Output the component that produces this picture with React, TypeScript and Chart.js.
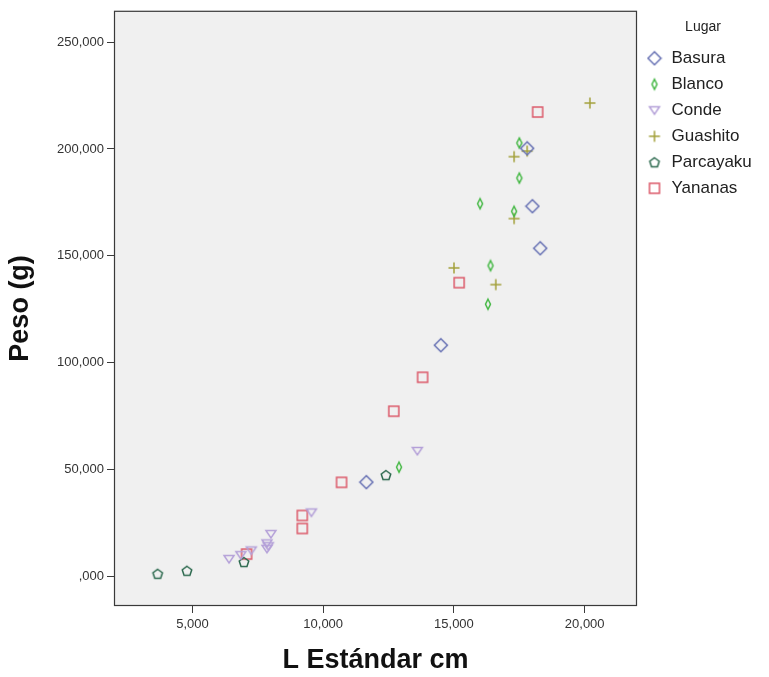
import React, { useEffect, useRef } from 'react';
import { Chart, registerables } from 'chart.js';

Chart.register(...registerables);

const seriesNames = ['Basura', 'Blanco', 'Conde', 'Guashito', 'Parcayaku', 'Yananas'];

const basuraX = [17800, 18000, 18300, 14500, 11650];
const basuraY = [200300, 173200, 153500, 108100, 44000];

const blancoX = [17500, 17500, 16000, 17300, 16400, 16300, 12900];
const blancoY = [202800, 186400, 174400, 170800, 145400, 127300, 51000];

const condeX = [13600, 9550, 8000, 7850, 7900, 7850, 6400, 6850, 7250];
const condeY = [58600, 29800, 19700, 15300, 14000, 12800, 8000, 9800, 12000];

const guashitoX = [20200, 17800, 17300, 17300, 15000, 16600];
const guashitoY = [221500, 199000, 196400, 167400, 144300, 136500];

const parcayakuX = [3670, 4790, 6970, 12400];
const parcayakuY = [1100, 2500, 6600, 47300];

const yananasX = [18200, 15200, 13800, 12700, 10700, 9200, 9200, 7070];
const yananasY = [217300, 137400, 93100, 77200, 43900, 28400, 22300, 10300];

const xTickValues = [5000, 10000, 15000, 20000];
const xTickLabels = ['5,000', '10,000', '15,000', '20,000'];
const yTickValues = [0, 50000, 100000, 150000, 200000, 250000];
const yTickLabels = [',000', '50,000', '100,000', '150,000', '200,000', '250,000'];

const seriesColors = ['#6670b3', '#45b845', '#b4a0d8', '#a3a03a', '#2d6a4f', '#dc5a6a'];
const seriesShapes = ['diamond', 'thin', 'tri', 'plus', 'pent', 'square'];

const FONT = "'Liberation Sans', Arial, sans-serif";

function makeMarker(kind: string, color: string): HTMLCanvasElement {
  const s = 16;
  const c = document.createElement('canvas');
  c.width = s;
  c.height = s;
  const ctx = c.getContext('2d')!;
  ctx.strokeStyle = color;
  ctx.lineWidth = 1.5;
  const m = s / 2;
  ctx.beginPath();
  if (kind === 'diamond') {
    ctx.moveTo(m, m - 6.5);
    ctx.lineTo(m + 6.5, m);
    ctx.lineTo(m, m + 6.5);
    ctx.lineTo(m - 6.5, m);
    ctx.closePath();
  } else if (kind === 'thin') {
    ctx.moveTo(m, m - 5);
    ctx.lineTo(m + 2.5, m);
    ctx.lineTo(m, m + 5);
    ctx.lineTo(m - 2.5, m);
    ctx.closePath();
  } else if (kind === 'tri') {
    ctx.moveTo(m - 5, m - 3.5);
    ctx.lineTo(m + 5, m - 3.5);
    ctx.lineTo(m, m + 4);
    ctx.closePath();
  } else if (kind === 'plus') {
    ctx.moveTo(m - 5.5, m);
    ctx.lineTo(m + 5.5, m);
    ctx.moveTo(m, m - 5.5);
    ctx.lineTo(m, m + 5.5);
  } else if (kind === 'pent') {
    for (let i = 0; i < 5; i++) {
      const a = -Math.PI / 2 + (i * 2 * Math.PI) / 5;
      const px = m + 5 * Math.cos(a);
      const py = m + 0.5 + 5 * Math.sin(a);
      if (i === 0) ctx.moveTo(px, py);
      else ctx.lineTo(px, py);
    }
    ctx.closePath();
  } else {
    ctx.rect(m - 5, m - 5, 10, 10);
  }
  ctx.stroke();
  return c;
}

const plotFrame = {
  id: 'plotFrame',
  afterInit(chart: any) {
    const lg = chart.legend;
    if (lg && !lg.__patched) {
      const orig = lg.fit.bind(lg);
      lg.fit = () => {
        orig();
        lg.width = 132;
      };
      lg.__patched = true;
    }
  },
  beforeDraw(chart: any) {
    const { ctx, chartArea } = chart;
    const { left, top, right, bottom } = chartArea;
    ctx.save();
    ctx.fillStyle = '#ffffff';
    ctx.fillRect(0, 0, chart.width, chart.height);
    ctx.fillStyle = '#f0f0f0';
    ctx.fillRect(left, top, right - left, bottom - top);
    ctx.strokeStyle = '#3a3a3a';
    ctx.lineWidth = 1.2;
    ctx.strokeRect(left + 0.5, top + 0.5, right - left - 1, bottom - top - 1);
    ctx.restore();
  },
};

export default function App() {
  const ref = useRef<HTMLCanvasElement | null>(null);

  useEffect(() => {
    if (!ref.current) return;
    const xs = [basuraX, blancoX, condeX, guashitoX, parcayakuX, yananasX];
    const ys = [basuraY, blancoY, condeY, guashitoY, parcayakuY, yananasY];
    const datasets = seriesNames.map((name, i) => {
      const marker = makeMarker(seriesShapes[i], seriesColors[i]);
      return {
        label: name,
        data: xs[i].map((x, j) => ({ x, y: ys[i][j] })),
        pointStyle: marker,
        borderColor: seriesColors[i],
        backgroundColor: 'transparent',
        pointRadius: 7,
        pointHoverRadius: 7,
      };
    });

    const chart = new Chart(ref.current, {
      type: 'scatter',
      data: { datasets },
      plugins: [plotFrame],
      options: {
        responsive: false,
        animation: false,
        devicePixelRatio: 1,
        layout: { padding: { top: 10, left: 0, right: 0, bottom: 0 } },
        plugins: {
          tooltip: { enabled: false },
          legend: {
            position: 'right',
            align: 'start',
            title: {
              display: true,
              text: 'Lugar',
              color: '#222',
              font: { family: FONT, size: 14 },
              padding: { top: 10, bottom: 4 },
            },
            labels: {
              usePointStyle: true,
              color: '#222',
              padding: 9,
              font: { family: FONT, size: 17 },
            },
          },
        },
        scales: {
          x: {
            type: 'linear',
            min: 2000,
            max: 22000,
            afterBuildTicks: (s: any) => {
              s.ticks = xTickValues.map((v) => ({ value: v }));
            },
            afterFit: (s: any) => {
              s.height = 71;
            },
            grid: { drawOnChartArea: false, drawTicks: true, tickLength: 7, color: '#3a3a3a' },
            border: { display: false },
            ticks: {
              autoSkip: false,
              maxRotation: 0,
              padding: 4,
              color: '#333',
              font: { family: FONT, size: 13 },
              callback: (v: any) => {
                const k = xTickValues.indexOf(Number(v));
                return k >= 0 ? xTickLabels[k] : '';
              },
            },
            title: {
              display: true,
              text: 'L Estándar cm',
              color: '#111',
              font: { family: FONT, size: 27, weight: 'bold' },
              padding: { top: 0, bottom: 0 },
            },
          },
          y: {
            type: 'linear',
            min: -14000,
            max: 264700,
            afterBuildTicks: (s: any) => {
              s.ticks = yTickValues.map((v) => ({ value: v }));
            },
            afterFit: (s: any) => {
              s.width = 114;
            },
            grid: { drawOnChartArea: false, drawTicks: true, tickLength: 7, color: '#3a3a3a' },
            border: { display: false },
            ticks: {
              autoSkip: false,
              padding: 3,
              color: '#333',
              font: { family: FONT, size: 13 },
              callback: (v: any) => {
                const k = yTickValues.indexOf(Number(v));
                return k >= 0 ? yTickLabels[k] : '';
              },
            },
            title: {
              display: true,
              text: 'Peso (g)',
              color: '#111',
              font: { family: FONT, size: 27, weight: 'bold' },
              padding: { top: 4, bottom: 0 },
            },
          },
        },
      } as any,
    });
    return () => chart.destroy();
  }, []);

  return (
    <div style={{ position: 'fixed', left: 0, top: 0, width: 769, height: 677, background: '#fff' }}>
      <canvas ref={ref} width={769} height={677} style={{ display: 'block' }} />
    </div>
  );
}
